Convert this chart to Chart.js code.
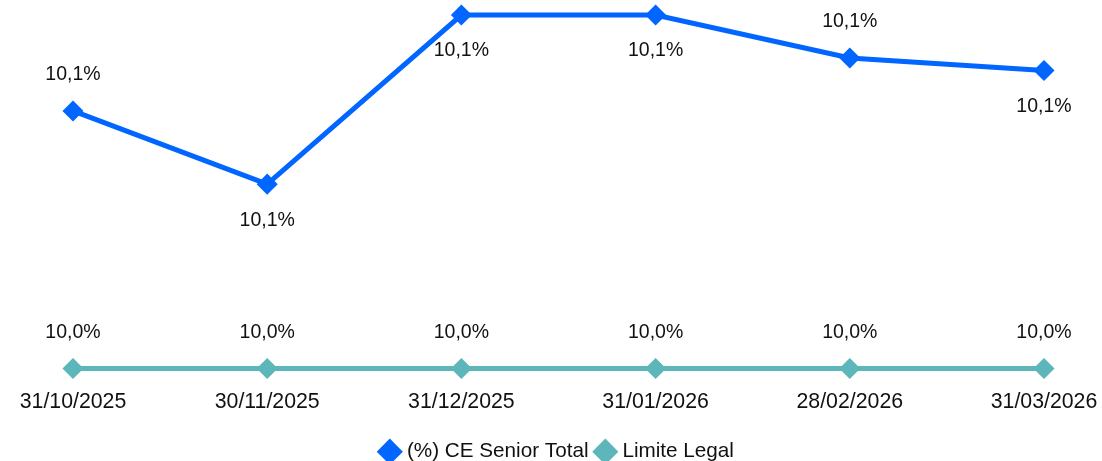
<!DOCTYPE html>
<html><head><meta charset="utf-8">
<script src="https://cdn.jsdelivr.net/npm/chart.js@4"></script>
<style>html,body{margin:0;padding:0;background:#fff}#wrap{width:1102px;height:461px}</style>
</head><body><div id="wrap"><canvas id="c"></canvas></div>
<script>
const categories = ["31/10/2025","30/11/2025","31/12/2025","31/01/2026","28/02/2026","31/03/2026"];
const seniorTotal = [10.102, 10.073, 10.14, 10.14, 10.123, 10.118];
const limiteLegal = [10.0, 10.0, 10.0, 10.0, 10.0, 10.0];
const seniorLabelPos = ["top","bottom","bottom","bottom","top","bottom"];
const limiteLabelPos = ["top","top","top","top","top","top"];

const FONT = "'Liberation Sans', Arial, sans-serif";
const fmt = v => v.toFixed(1).replace('.', ',') + '%';

const labelPlugin = {
  id: 'pointLabels',
  afterDatasetsDraw(chart) {
    const ctx = chart.ctx;
    ctx.save();
    ctx.font = "19.5px " + FONT;
    ctx.fillStyle = '#111';
    ctx.textAlign = 'center';
    ctx.textBaseline = 'middle';
    chart.data.datasets.forEach((ds, di) => {
      const meta = chart.getDatasetMeta(di);
      meta.data.forEach((pt, i) => {
        const pos = ds.labelPos[i];
        const y = pos === 'top' ? pt.y - 36 : pt.y + 36;
        ctx.fillText(fmt(ds.data[i]), pt.x, y);
      });
    });
    ctx.restore();
  }
};

new Chart(document.getElementById('c'), {
  type: 'line',
  data: {
    labels: categories,
    datasets: [
      { label: '(%) CE Senior Total', data: seniorTotal, labelPos: seniorLabelPos,
        borderColor: '#0066FF', backgroundColor: '#0066FF', borderWidth: 5, clip: false,
        pointStyle: 'rectRot', pointRadius: 7, pointHoverRadius: 7, tension: 0 },
      { label: 'Limite Legal', data: limiteLegal, labelPos: limiteLabelPos,
        borderColor: '#5DB6BA', backgroundColor: '#5DB6BA', borderWidth: 5, clip: false,
        pointStyle: 'rectRot', pointRadius: 7, pointHoverRadius: 7, tension: 0 }
    ]
  },
  options: {
    responsive: true, maintainAspectRatio: false, animation: false,
    layout: { padding: { top: 15, left: 73, right: 58, bottom: -11 } },
    plugins: {
      legend: { position: 'bottom',
        labels: { usePointStyle: true, pointStyle: 'rectRot', boxWidth: 13.5, boxHeight: 13.5, padding: 10,
          color: '#111', font: { family: FONT, size: 20.7 } } },
      tooltip: { enabled: false }
    },
    scales: {
      x: { offset: false, grid: { display: false, drawTicks: false }, border: { display: false },
        afterFit(scale) { scale.paddingLeft = 0; scale.paddingRight = 0; },
        ticks: { color: '#111', font: { family: FONT, size: 21.3 }, padding: 16, maxRotation: 0, autoSkip: false } },
      y: { display: false, min: 9.9979, max: 10.14 }
    }
  },
  plugins: [labelPlugin]
});
</script></body></html>
